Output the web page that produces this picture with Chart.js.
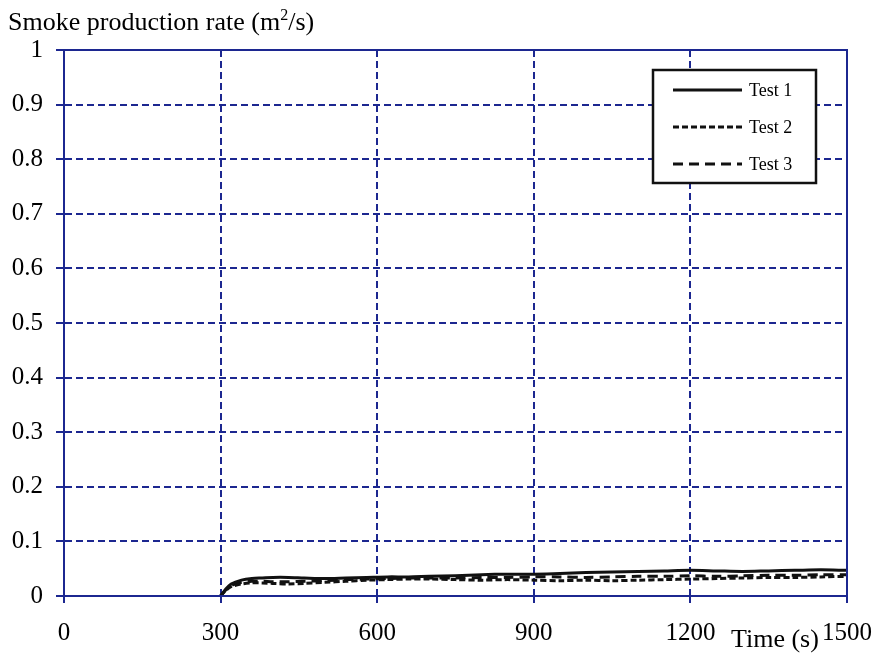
<!DOCTYPE html>
<html>
<head>
<meta charset="utf-8">
<style>
  html, body { margin: 0; padding: 0; background: #fff; }
  #wrap { width: 877px; height: 656px; }
</style>
<script src="https://cdn.jsdelivr.net/npm/chart.js@4/dist/chart.umd.min.js"></script>
</head>
<body>
<div id="wrap"><canvas id="smoke"></canvas></div>
<script>
// sampled times (s) and smoke production rate (m2/s) per test
const times = [300, 310, 320, 340, 360, 380, 400, 430, 460, 500, 540, 580, 620, 660, 700, 750,
  800, 850, 900, 950, 1000, 1050, 1100, 1150, 1200, 1250, 1300, 1350, 1400, 1450, 1500];
const test1 = [0, 0.013, 0.022, 0.029, 0.032, 0.033, 0.034, 0.034, 0.033, 0.032, 0.033, 0.034, 0.035, 0.035, 0.036, 0.037,
  0.039, 0.040, 0.040, 0.041, 0.043, 0.044, 0.045, 0.046, 0.047, 0.046, 0.045, 0.046, 0.047, 0.048, 0.047];
const test2 = [0, 0.010, 0.017, 0.022, 0.024, 0.024, 0.023, 0.022, 0.023, 0.025, 0.027, 0.029, 0.030, 0.031, 0.031, 0.030,
  0.029, 0.030, 0.029, 0.028, 0.029, 0.028, 0.029, 0.030, 0.031, 0.032, 0.033, 0.034, 0.034, 0.035, 0.036];
const test3 = [0, 0.011, 0.019, 0.025, 0.027, 0.027, 0.026, 0.026, 0.027, 0.028, 0.030, 0.031, 0.032, 0.033, 0.033, 0.033,
  0.034, 0.034, 0.035, 0.035, 0.034, 0.035, 0.036, 0.036, 0.037, 0.036, 0.037, 0.038, 0.038, 0.039, 0.039];
const seriesNames = ['Test 1', 'Test 2', 'Test 3'];
const xTicks = [0, 300, 600, 900, 1200, 1500];

const blue = '#1c2790';
const serif = '"Liberation Serif", "Times New Roman", serif';

function pts(vals) {
  return vals.map((v, i) => ({ x: times[i], y: v }));
}

// axis titles, frame and boxed legend
const extras = {
  id: 'extras',
  afterDraw(chart) {
    const ctx = chart.ctx;
    const a = chart.chartArea;
    ctx.save();
    ctx.strokeStyle = blue;
    ctx.lineWidth = 2;
    ctx.setLineDash([]);
    ctx.strokeRect(a.left, a.top, a.right - a.left, a.bottom - a.top);

    ctx.fillStyle = '#000';
    ctx.font = '26px ' + serif;
    ctx.textBaseline = 'alphabetic';
    ctx.textAlign = 'left';
    ctx.fillText('Smoke production rate (m', 8, 30);
    let w = ctx.measureText('Smoke production rate (m').width;
    ctx.font = '16px ' + serif;
    ctx.fillText('2', 8 + w, 20);
    let w2 = ctx.measureText('2').width;
    ctx.font = '26px ' + serif;
    ctx.fillText('/s)', 8 + w + w2, 30);

    ctx.fillText('Time (s)', 731, 647);

    // legend
    const lx = 653, ly = 70, lw = 163, lh = 113;
    ctx.fillStyle = '#fff';
    ctx.fillRect(lx, ly, lw, lh);
    ctx.strokeStyle = '#111';
    ctx.lineWidth = 2.5;
    ctx.strokeRect(lx, ly, lw, lh);
    ctx.font = '18px ' + serif;
    ctx.textBaseline = 'middle';
    chart.data.datasets.forEach((ds, i) => {
      const y = ly + 20 + i * 37;
      ctx.strokeStyle = ds.borderColor;
      ctx.lineWidth = 3;
      ctx.setLineDash(ds.borderDash || []);
      ctx.beginPath();
      ctx.moveTo(lx + 20, y);
      ctx.lineTo(lx + 89, y);
      ctx.stroke();
      ctx.setLineDash([]);
      ctx.fillStyle = '#000';
      ctx.fillText(ds.label, lx + 96, y + 1);
    });
    ctx.restore();
  }
};

new Chart(document.getElementById('smoke'), {
  type: 'line',
  data: {
    datasets: [
      { label: seriesNames[0], data: pts(test1), borderColor: '#111', borderWidth: 3, tension: 0.3 },
      { label: seriesNames[1], data: pts(test2), borderColor: '#111', borderWidth: 3, borderDash: [6, 3], tension: 0.3 },
      { label: seriesNames[2], data: pts(test3), borderColor: '#111', borderWidth: 3, borderDash: [10, 6], tension: 0.3 }
    ]
  },
  options: {
    responsive: true,
    maintainAspectRatio: false,
    animation: false,
    layout: { padding: { left: 0, right: 30, top: 50, bottom: 0 } },
    elements: { point: { radius: 0 } },
    plugins: { legend: { display: false }, tooltip: { enabled: false } },
    scales: {
      x: {
        type: 'linear',
        min: 0,
        max: 1500,
        afterBuildTicks: scale => { scale.ticks = xTicks.map(v => ({ value: v })); },
        afterFit: scale => {
          scale.height = 60;
          scale.paddingLeft = 0;
          scale.paddingRight = 0;
        },
        grid: { color: blue, lineWidth: 2, tickLength: 7, tickColor: blue },
        border: { color: blue, width: 2, dash: [7, 4] },
        ticks: { color: '#000', font: { family: serif, size: 25 }, padding: 15, maxRotation: 0,
          callback: v => String(v) }
      },
      y: {
        min: 0,
        max: 1,
        afterFit: scale => { scale.width = 64; },
        grid: { color: blue, lineWidth: 2, tickLength: 8, tickColor: blue },
        border: { color: blue, width: 2, dash: [7, 4] },
        ticks: { stepSize: 0.1, color: '#000', font: { family: serif, size: 25 }, padding: 13,
          callback: v => String(Math.round(v * 10) / 10) }
      }
    }
  },
  plugins: [extras]
});
</script>
</body>
</html>
